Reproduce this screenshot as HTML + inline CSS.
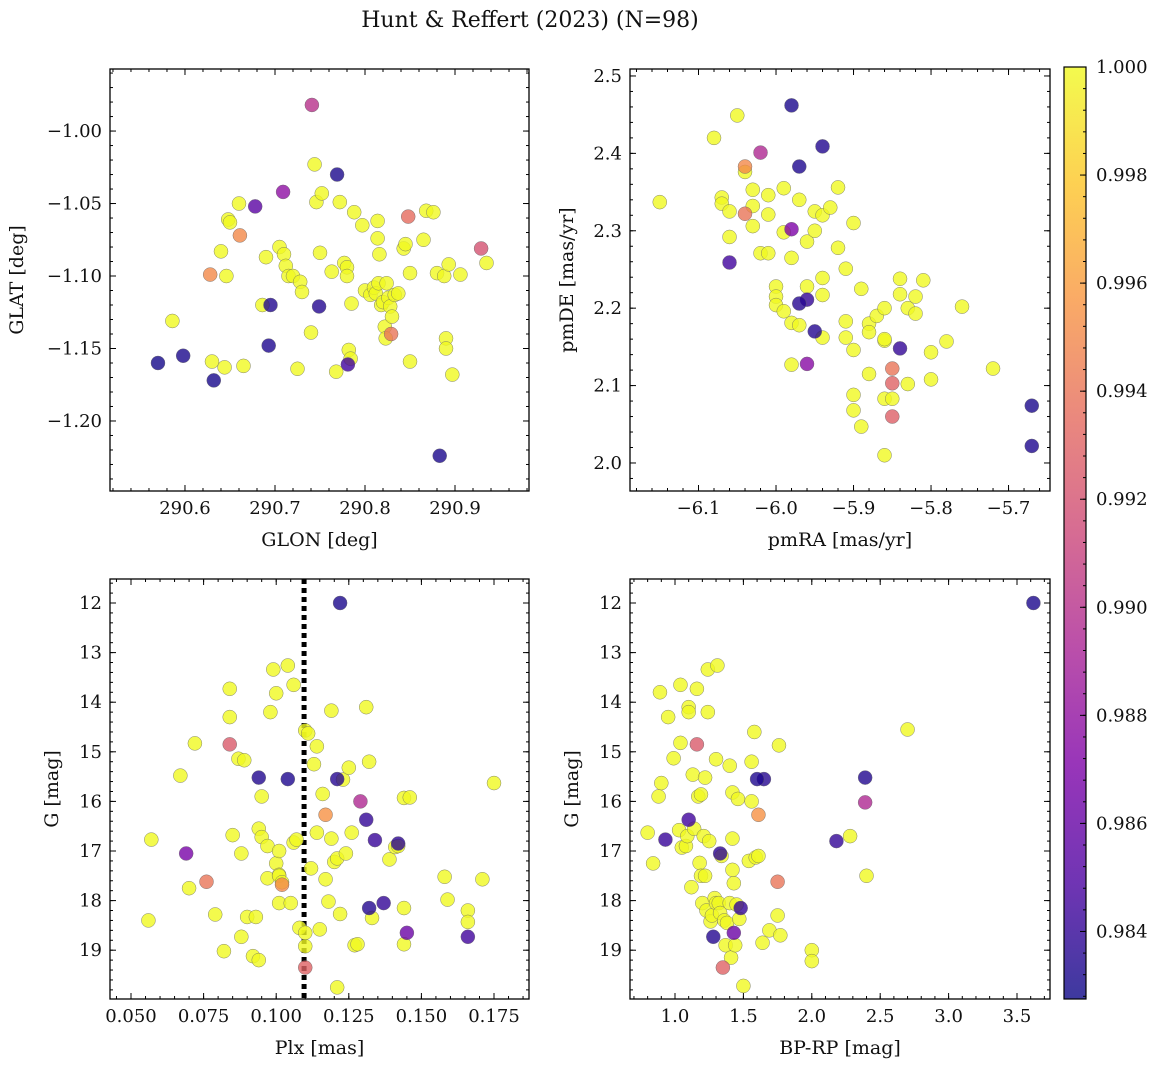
<!DOCTYPE html>
<html><head><meta charset="utf-8">
<style>
html,body{margin:0;padding:0;background:#fff;}
svg text{font-family:"DejaVu Serif","Liberation Serif",serif;fill:#111;}
</style></head>
<body>
<svg id="fig" width="1161" height="1067" xmlns="http://www.w3.org/2000/svg">
<defs>
<linearGradient id="plasma" x1="0" y1="1" x2="0" y2="0">
<stop offset="0" stop-color="#0d0887"/><stop offset="0.125" stop-color="#4c02a1"/>
<stop offset="0.25" stop-color="#7e03a8"/><stop offset="0.375" stop-color="#a92395"/>
<stop offset="0.5" stop-color="#cc4778"/><stop offset="0.625" stop-color="#e56b5d"/>
<stop offset="0.75" stop-color="#f89540"/><stop offset="0.875" stop-color="#fdc527"/>
<stop offset="1" stop-color="#f0f921"/>
</linearGradient>
</defs>
<text x="530" y="27" font-size="22" text-anchor="middle">Hunt &amp; Reffert (2023) (N=98)</text>
</svg>
<script>
// ---- data ----
const tlGlon=[290.570,290.598,290.632,290.693,290.695,290.769,290.749,290.678,290.709,290.883,290.781,290.741,290.848,290.929,290.628,290.661,290.829,
290.586,290.630,290.644,290.646,290.640,290.648,290.650,290.660,290.665,290.686,290.690,290.705,290.710,290.712,290.715,290.720,290.725,290.728,290.730,290.740,290.744,290.746,290.752,290.750,290.763,290.768,290.772,290.777,290.780,290.780,290.782,290.784,290.785,290.788,290.797,290.800,290.806,290.810,290.812,290.814,290.814,290.815,290.818,290.820,290.822,290.823,290.824,290.826,290.828,290.830,290.833,290.843,290.845,290.850,290.850,290.865,290.868,290.876,290.880,290.888,290.890,290.890,290.893,290.897,290.906,290.935,290.837,290.816];
const tlGlat=[-1.160,-1.155,-1.172,-1.148,-1.120,-1.030,-1.121,-1.052,-1.042,-1.224,-1.161,-0.982,-1.059,-1.081,-1.099,-1.072,-1.140,
-1.131,-1.159,-1.163,-1.100,-1.083,-1.061,-1.063,-1.050,-1.162,-1.120,-1.087,-1.080,-1.085,-1.093,-1.100,-1.100,-1.164,-1.104,-1.111,-1.139,-1.023,-1.049,-1.043,-1.084,-1.097,-1.166,-1.049,-1.091,-1.094,-1.100,-1.151,-1.157,-1.119,-1.056,-1.065,-1.110,-1.113,-1.108,-1.112,-1.062,-1.074,-1.105,-1.120,-1.118,-1.135,-1.143,-1.105,-1.115,-1.121,-1.128,-1.113,-1.081,-1.078,-1.098,-1.159,-1.075,-1.055,-1.056,-1.098,-1.100,-1.143,-1.150,-1.092,-1.168,-1.099,-1.091,-1.112,-1.085];
const tlProb=[0.9830,0.9832,0.9831,0.9833,0.9834,0.9832,0.9835,0.9855,0.9878,0.9832,0.9845,0.9900,0.9935,0.9920,0.9950,0.9950,0.9940];

const trPmra=[-5.98,-5.94,-5.97,-5.97,-5.96,-6.06,-5.95,-5.84,-5.67,-5.67,-6.02,-5.98,-5.96,-6.04,-6.04,-5.85,-5.85,-5.85,
-6.15,-6.08,-6.05,-6.07,-6.07,-6.06,-6.06,-6.04,-6.03,-6.03,-6.03,-6.02,-6.01,-6.01,-6.01,-5.99,-5.98,-5.99,-5.98,-6.00,-6.00,-6.00,-5.99,-5.98,-5.97,-5.97,-5.96,-5.96,-5.95,-5.94,-5.95,-5.94,-5.94,-5.94,-5.93,-5.92,-5.92,-5.91,-5.91,-5.91,-5.90,-5.90,-5.90,-5.89,-5.88,-5.88,-5.89,-5.90,-5.87,-5.86,-5.86,-5.86,-5.85,-5.86,-5.84,-5.84,-5.83,-5.82,-5.82,-5.83,-5.81,-5.80,-5.80,-5.78,-5.76,-5.72,-5.86,-5.88];
const trPmde=[2.462,2.409,2.383,2.206,2.211,2.259,2.170,2.148,2.074,2.022,2.401,2.302,2.128,2.383,2.322,2.122,2.103,2.060,
2.337,2.420,2.449,2.343,2.335,2.325,2.292,2.376,2.353,2.332,2.306,2.271,2.271,2.346,2.321,2.355,2.265,2.298,2.127,2.228,2.215,2.204,2.196,2.181,2.178,2.340,2.286,2.228,2.325,2.320,2.300,2.239,2.217,2.162,2.330,2.356,2.278,2.251,2.183,2.162,2.146,2.088,2.068,2.047,2.180,2.169,2.225,2.310,2.190,2.158,2.200,2.083,2.083,2.010,2.218,2.238,2.200,2.193,2.215,2.102,2.236,2.108,2.143,2.157,2.202,2.122,2.160,2.115];
const trProb=[0.9832,0.9834,0.9833,0.9836,0.9840,0.9845,0.9835,0.9840,0.9832,0.9833,0.9895,0.9870,0.9875,0.9950,0.9940,0.9940,0.9930,0.9928];

const blPlx=[0.122,0.094,0.104,0.121,0.131,0.134,0.142,0.132,0.137,0.166,0.145,0.069,0.129,0.084,0.076,0.102,0.117,0.110,
0.056,0.057,0.067,0.070,0.072,0.079,0.082,0.084,0.084,0.085,0.087,0.088,0.088,0.089,0.090,0.092,0.093,0.094,0.094,0.095,0.095,0.097,0.097,0.098,0.099,0.100,0.100,0.101,0.101,0.101,0.101,0.102,0.104,0.105,0.106,0.106,0.107,0.108,0.110,0.110,0.110,0.111,0.112,0.113,0.114,0.114,0.115,0.116,0.117,0.118,0.119,0.119,0.120,0.121,0.122,0.121,0.123,0.124,0.125,0.126,0.127,0.128,0.131,0.132,0.133,0.139,0.141,0.142,0.144,0.144,0.144,0.146,0.158,0.159,0.166,0.166,0.171,0.175];
const blG=[12.0,15.52,15.55,15.55,16.37,16.78,16.85,18.15,18.05,18.73,18.65,17.05,16.0,14.85,17.62,17.68,16.27,19.35,
18.4,16.77,15.48,17.75,14.83,18.28,19.02,13.73,14.30,16.68,15.14,17.05,18.73,15.17,18.33,19.12,18.33,19.2,16.55,16.72,15.9,16.9,17.55,14.2,13.34,13.82,17.25,17.48,17.5,17.0,18.05,17.63,13.26,18.05,16.83,13.65,16.77,18.55,14.57,18.92,18.65,14.63,17.35,15.25,14.89,16.63,18.58,15.85,17.57,18.02,14.17,16.75,17.22,17.15,18.27,19.75,15.56,17.05,15.32,16.63,18.9,18.88,14.1,15.2,18.35,17.17,16.92,16.9,15.93,18.15,18.88,15.92,17.52,17.98,18.2,18.43,17.57,15.63];
const blProb=[0.9832,0.9834,0.9833,0.9836,0.9840,0.9842,0.9838,0.9835,0.9840,0.9845,0.9862,0.9868,0.9895,0.9925,0.9940,0.9950,0.9955,0.9930];

const brBprp=[3.62,2.39,1.60,1.65,2.18,0.93,1.10,1.33,1.28,1.48,1.43,2.39,1.16,1.61,1.75,1.35,
0.80,0.84,0.88,0.90,0.89,0.95,0.99,1.03,1.05,1.04,1.04,1.08,1.09,1.10,1.10,1.12,1.13,1.14,1.16,1.17,1.19,1.18,1.19,1.20,1.21,1.22,1.22,1.24,1.23,1.24,1.25,1.26,1.27,1.29,1.30,1.30,1.31,1.32,1.33,1.34,1.36,1.37,1.38,1.40,1.40,1.41,1.42,1.42,1.42,1.43,1.44,1.45,1.46,1.47,1.50,1.54,1.56,1.56,1.58,1.59,1.61,1.64,1.69,1.75,1.76,1.77,2.00,2.00,2.28,2.40,2.70];
const brG=[12.0,15.52,15.55,15.55,16.8,16.77,16.37,17.05,18.73,18.15,18.65,16.02,14.85,16.27,17.62,19.35,
16.63,17.25,15.9,15.63,13.8,14.3,15.13,16.58,16.93,13.65,14.82,16.9,16.7,14.1,14.2,17.73,15.46,16.55,13.73,15.9,15.86,17.24,17.5,18.05,16.7,17.5,15.52,14.2,18.2,13.34,16.8,18.42,18.3,17.95,15.15,18.05,13.26,18.05,18.25,17.1,18.4,18.9,18.45,18.05,15.28,19.15,16.75,15.82,17.38,17.65,18.9,18.08,15.95,18.37,19.72,17.2,16.0,15.2,14.6,17.13,17.1,18.85,18.6,18.3,14.87,18.7,19.0,19.22,16.7,17.5,14.55];
const brProb=[0.9832,0.9834,0.9833,0.9836,0.9840,0.9842,0.9845,0.9838,0.9835,0.9840,0.9862,0.9895,0.9925,0.9955,0.9940,0.9930];

const cbTicks=[0.984,0.986,0.988,0.990,0.992,0.994,0.996,0.998,1.000];
const VMIN=0.98275, VMAX=1.0;

const NS="http://www.w3.org/2000/svg";
const svg=document.getElementById('fig');
function mk(tag,attrs,parent){const e=document.createElementNS(NS,tag);for(const k in attrs)e.setAttribute(k,attrs[k]);(parent||svg).appendChild(e);return e;}
const stops=[[0,13,8,135],[0.125,76,2,161],[0.25,126,3,168],[0.375,169,35,149],[0.5,204,71,120],[0.625,229,107,93],[0.75,248,149,64],[0.875,253,197,39],[1,240,249,33]];
function plasma(v){let t=(v-VMIN)/(VMAX-VMIN);t=Math.max(0,Math.min(1,t));
 for(let i=1;i<stops.length;i++){if(t<=stops[i][0]){const a=stops[i-1],b=stops[i];const f=(t-a[0])/(b[0]-a[0]);
 return `rgb(${Math.round(a[1]+f*(b[1]-a[1]))},${Math.round(a[2]+f*(b[2]-a[2]))},${Math.round(a[3]+f*(b[3]-a[3]))})`;}}return 'rgb(240,249,33)';}

const TFS=18, LFS=19;
function panel(o){
 const g=mk('g',{});
 
 
 const sx=v=>o.x0+(v-o.xmin)/(o.xmax-o.xmin)*(o.x1-o.x0);
 const sy=v=>o.inv? o.y0+(v-o.ymin)/(o.ymax-o.ymin)*(o.y1-o.y0) : o.y1-(v-o.ymin)/(o.ymax-o.ymin)*(o.y1-o.y0);
 if(o.vline!==undefined){const l=mk('line',{x1:sx(o.vline),x2:sx(o.vline),y1:o.y0,y2:o.y1,stroke:'#000','stroke-width':5,'stroke-dasharray':'5,4'},g);
  
  }
 const order=o.xs.map((_,i)=>i).sort((a,b)=>(o.ps[b]??1)-(o.ps[a]??1));
 order.forEach(i=>{const p=o.ps[i]??1;
  const c=mk('circle',{cx:sx(o.xs[i]),cy:sy(o.ys[i]),r:7,fill:plasma(p),'fill-opacity':0.8,stroke:'#666','stroke-width':0.5,'stroke-opacity':0.8},g);
  
  });
 mk('rect',{x:o.x0,y:o.y0,width:o.x1-o.x0,height:o.y1-o.y0,fill:'none',stroke:'#000','stroke-width':1.3},g);
 const ax=mk('g',{},g);
 
 
 for(let v=Math.ceil(o.xmin/o.xminor-1e-6)*o.xminor;v<=o.xmax+1e-9;v+=o.xminor){const X=sx(v);
  mk('line',{x1:X,x2:X,y1:o.y1,y2:o.y1-3,stroke:'#000'},ax);mk('line',{x1:X,x2:X,y1:o.y0,y2:o.y0+3,stroke:'#000'},ax);}
 o.xt.forEach(v=>{const X=sx(v);
  mk('line',{x1:X,x2:X,y1:o.y1,y2:o.y1-6,stroke:'#000'},ax);mk('line',{x1:X,x2:X,y1:o.y0,y2:o.y0+6,stroke:'#000'},ax);
  const t=mk('text',{x:X,y:o.y1+23,'font-size':TFS,'text-anchor':'middle'},ax);t.textContent=(v<0?'\u2212':'')+Math.abs(v).toFixed(o.xd);
  
  });
 const ay=mk('g',{},g);
 
 
 for(let v=Math.ceil(o.ymin/o.yminor-1e-6)*o.yminor;v<=o.ymax+1e-9;v+=o.yminor){const Y=sy(v);
  mk('line',{x1:o.x0,x2:o.x0+3,y1:Y,y2:Y,stroke:'#000'},ay);mk('line',{x1:o.x1,x2:o.x1-3,y1:Y,y2:Y,stroke:'#000'},ay);}
 o.yt.forEach(v=>{const Y=sy(v);
  mk('line',{x1:o.x0,x2:o.x0+6,y1:Y,y2:Y,stroke:'#000'},ay);mk('line',{x1:o.x1,x2:o.x1-6,y1:Y,y2:Y,stroke:'#000'},ay);
  const t=mk('text',{x:o.x0-8,y:Y+6,'font-size':TFS,'text-anchor':'end'},ay);t.textContent=(v<0?'\u2212':'')+Math.abs(v).toFixed(o.yd);
  
  });
 const xl=mk('text',{x:(o.x0+o.x1)/2,y:o.y1+55,'font-size':LFS,'text-anchor':'middle'},g);xl.textContent=o.xlab;
 
 
 const yx=o.ylx,yy=(o.y0+o.y1)/2;
 const yl=mk('text',{x:yx,y:yy,'font-size':LFS,'text-anchor':'middle',transform:`rotate(-90 ${yx} ${yy})`},g);yl.textContent=o.ylab;
 
 
}
const rng=(a,b,s)=>{const r=[];for(let v=a;v<=b+1e-9;v+=s)r.push(+v.toFixed(6));return r;};
panel({name:'glon-glat-panel',x0:110,x1:529,y0:69,y1:491,xmin:290.5167,xmax:290.9822,ymin:-1.2483,ymax:-0.9572,
 xs:tlGlon,ys:tlGlat,ps:tlProb,xt:rng(290.6,290.9,0.1),xd:1,yt:rng(-1.20,-1.00,0.05),yd:2,xminor:0.02,yminor:0.01,xlab:'GLON [deg]',ylab:'GLAT [deg]',ylx:23});
panel({name:'proper-motion-panel',x0:630,x1:1050,y0:69,y1:491,xmin:-6.1884,xmax:-5.6465,ymin:1.9638,ymax:2.509,
 xs:trPmra,ys:trPmde,ps:trProb,xt:rng(-6.1,-5.7,0.1),xd:1,yt:rng(2.0,2.5,0.1),yd:1,xminor:0.02,yminor:0.02,xlab:'pmRA [mas/yr]',ylab:'pmDE [mas/yr]',ylx:573});
panel({name:'parallax-mag-panel',x0:110,x1:529,y0:579,y1:999,xmin:0.04277,xmax:0.18705,ymin:11.516,ymax:19.984,inv:true,vline:0.1096,
 xs:blPlx,ys:blG,ps:blProb,xt:rng(0.05,0.175,0.025),xd:3,yt:rng(12,19,1),yd:0,xminor:0.005,yminor:0.2,xlab:'Plx [mas]',ylab:'G [mag]',ylx:58});
panel({name:'color-mag-panel',x0:630,x1:1050,y0:579,y1:999,xmin:0.6711,xmax:3.7412,ymin:11.516,ymax:19.984,inv:true,
 xs:brBprp,ys:brG,ps:brProb,xt:rng(1.0,3.5,0.5),xd:1,yt:rng(12,19,1),yd:0,xminor:0.1,yminor:0.2,xlab:'BP-RP [mag]',ylab:'G [mag]',ylx:578});

// colorbar
const cb=mk('g',{});


const cbx0=1064,cbx1=1086,cby0=67,cby1=999;
mk('rect',{x:cbx0,y:cby0,width:cbx1-cbx0,height:cby1-cby0,fill:'url(#plasma)','fill-opacity':0.8},cb);
mk('rect',{x:cbx0,y:cby0,width:cbx1-cbx0,height:cby1-cby0,fill:'none',stroke:'#000','stroke-width':1.2},cb);
const cy=v=>cby1-(v-VMIN)/(VMAX-VMIN)*(cby1-cby0);
for(let v=0.9828;v<=1.00001;v+=0.0004){mk('line',{x1:cbx1,x2:cbx1-3,y1:cy(v),y2:cy(v),stroke:'#000'},cb);}
cbTicks.forEach(v=>{const Y=cy(v);mk('line',{x1:cbx1,x2:cbx1-6,y1:Y,y2:Y,stroke:'#000'},cb);
 const t=mk('text',{x:cbx1+10,y:Y+6,'font-size':TFS},cb);t.textContent=v.toFixed(3);
 
 });
</script>
</body></html>
